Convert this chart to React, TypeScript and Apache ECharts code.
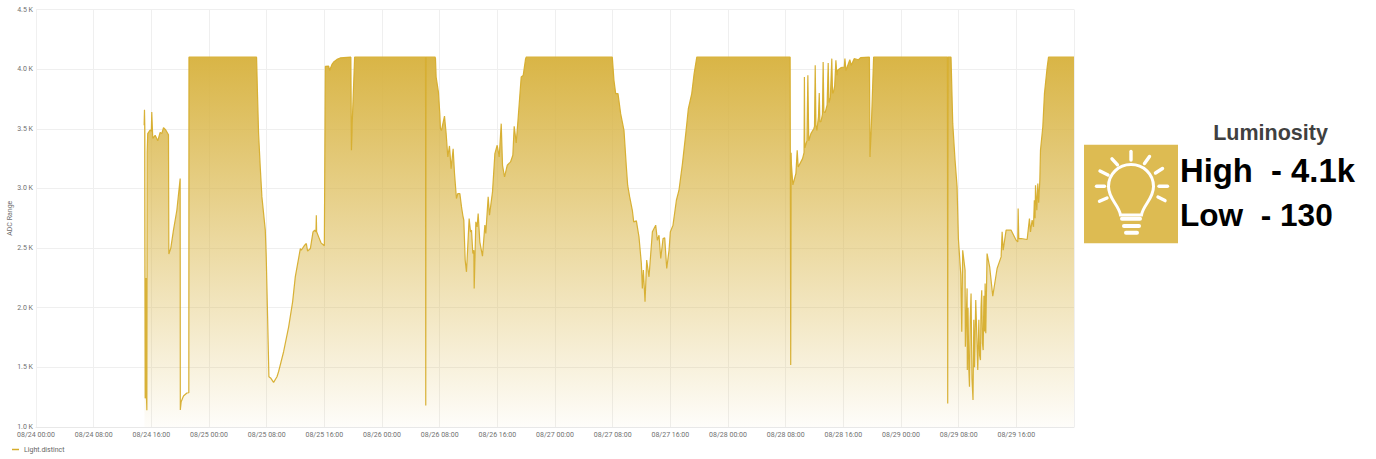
import React, { useEffect, useRef } from "react";
import * as echarts from "echarts";

const tickLabels = [
  "08/24 00:00", "08/24 08:00", "08/24 16:00", "08/25 00:00", "08/25 08:00", "08/25 16:00",
  "08/26 00:00", "08/26 08:00", "08/26 16:00", "08/27 00:00", "08/27 08:00", "08/27 16:00",
  "08/28 00:00", "08/28 08:00", "08/28 16:00", "08/29 00:00", "08/29 08:00", "08/29 16:00",
];

// Hours since 08/24 00:00 and the reading at that hour
const hours = [
  15.0, 15.05, 15.1, 15.15, 15.2, 15.28, 15.3, 15.38, 15.42, 15.5, 15.83, 16.0, 16.06, 16.2, 16.53, 16.9, 17.22, 17.45, 17.69, 18.0, 18.38,
  18.43, 18.7, 19.07, 19.54, 20.0, 20.02, 20.14, 20.46, 20.93, 21.2, 21.22,
  30.6, 30.74, 30.88, 31.11, 31.34, 31.81, 31.94, 32.13, 32.31, 32.59, 32.96, 33.43, 33.65, 34.35, 35.05, 35.6, 35.97, 36.43, 36.67, 36.8,
  37.27, 37.5, 37.68, 38.06, 38.43, 38.66, 38.84, 38.89, 38.93, 39.21, 39.54, 40.0, 40.14, 40.6, 40.74, 41.06, 41.29, 41.76, 42.2, 43.68, 43.76, 43.9, 44.2,
  54.04, 54.07, 54.1, 55.37,
  55.42, 55.51, 55.83, 56.02, 56.11, 56.25, 56.67, 56.9, 57.13, 57.36, 57.59, 57.87, 58.06, 58.33, 58.51, 58.8, 59.03, 59.21, 59.35, 59.54, 59.72,
  60.09, 60.28, 60.42, 60.6, 60.74, 60.79, 61.02, 61.2, 61.34, 61.57, 61.94, 62.27, 62.4, 62.73, 62.91, 63.33, 63.66, 63.98, 64.26, 64.54, 64.72,
  65.0, 65.37, 65.83, 66.15, 66.34, 66.62, 66.9, 67.31, 67.59, 67.92, 68.0,
  79.95, 80.18, 80.42, 80.74, 81.11, 81.57, 81.9, 82.08, 82.36, 82.73, 82.92, 83.29, 83.65, 83.98, 84.12, 84.26, 84.49, 84.72, 85.04, 85.51, 85.97,
  86.2, 86.43, 86.67, 86.99, 87.22, 87.5, 87.82, 88.0, 88.37, 88.84, 89.2, 89.68, 90.14, 90.5, 90.97, 91.3, 91.67,
  104.62, 104.7, 104.76, 104.8, 105.0, 105.42, 105.6, 105.74, 106.34, 106.55, 106.6, 106.66, 106.95, 107.08, 107.2, 107.5, 107.9, 108.0, 108.1, 108.2, 108.33,
  108.55, 108.66, 108.75, 108.9, 109.1, 109.2, 109.3, 109.5, 109.75, 109.9, 110.0, 110.2, 110.4, 110.5, 110.6, 110.8, 110.97, 111.1, 111.2, 111.67,
  112.13, 112.22, 112.36, 112.9, 113.1, 113.5, 114.1, 114.4, 115.62, 115.7, 115.88, 116.2,
  126.44, 126.48, 126.52, 126.94, 127.18, 127.5, 127.78, 127.96, 128.3, 128.43, 128.56, 128.89, 128.93, 129.17, 129.2, 129.3, 129.4, 129.5, 129.6, 129.72,
  129.85, 129.99, 130.1, 130.2, 130.37, 130.5, 130.65, 130.8, 130.9, 131.02, 131.1, 131.2, 131.3, 131.4, 131.5, 131.6, 131.67, 131.76, 131.94, 132.3,
  132.73, 133.33, 133.89, 134.03, 134.17, 134.58, 135.28, 135.97, 136.2, 136.25, 136.34, 136.67, 137.5, 137.82, 137.96, 138.19, 138.38, 138.5, 138.6, 138.66,
  138.84, 138.98, 139.1, 139.26, 139.35, 139.67, 139.9, 140.28, 140.46, 144.0,
];

const values = [
  3530, 3660, 3500, 1240, 1270, 2250, 1300, 1140, 3300, 3460, 3490, 3480, 3640, 3420, 3445, 3400, 3470, 3460, 3510, 3490, 3450,
  2450, 2500, 2650, 2817, 3083, 1142, 1212, 1260, 1285, 1287, 4100,
  4100, 3766, 3460, 3180, 2929, 2650, 2426, 1924, 1421, 1408, 1374, 1421, 1463, 1631, 1840, 2049, 2259, 2413, 2496, 2482,
  2524, 2538, 2474, 2496, 2636, 2650, 2636, 2775, 2636, 2594, 2544, 2519, 4023, 4026, 3990, 4040, 4060, 4082, 4094, 4100, 3320, 3600, 4100,
  4100, 1180, 4100, 4100,
  4088, 3934, 3808, 3627, 3501, 3487, 3607, 3459, 3264, 3356, 3166, 3333, 3125, 2915, 2957, 2957, 2845, 2775, 2734, 2399, 2301,
  2748, 2636, 2650, 2454, 2482, 2162, 2720, 2678, 2789, 2552, 2432, 2692, 2622, 2929, 2775, 2971, 3292, 3362, 3264, 3543, 3194,
  3096, 3194, 3222, 3278, 3521, 3381, 3599, 3934, 3948, 4088, 4100,
  4100, 3906, 3795, 3795, 3627, 3487, 3180, 3027, 2929, 2817, 2720, 2728, 2594, 2371, 2162, 2315, 2050, 2399, 2259, 2636, 2692,
  2566, 2608, 2413, 2580, 2586, 2329, 2482, 2636, 2692, 2901, 2985, 3208, 3459, 3669, 3795, 3962, 4100,
  4100, 1520, 3300, 3200, 3030, 3125, 3320, 3180, 3250, 3300, 3934, 3340, 3400, 3948, 3400, 3459, 3500, 3520, 4032, 3530, 3487,
  3600, 3800, 3560, 3560, 3620, 4060, 3640, 3640, 3700, 4051, 3720, 3760, 4088, 3800, 3800, 3860, 4074, 3950, 3990, 4012,
  4018, 4088, 3990, 4079, 4032, 4088, 4079, 4097, 4100, 3264, 3515, 4100,
  4100, 1198, 4100, 4100, 3543, 3236, 3013, 2580, 2273, 1798, 2482, 2315, 1673, 2162, 1477, 2000, 1500, 1338, 1900, 2119,
  1400, 1226, 1900, 1500, 2064, 1800, 1477, 1900, 1600, 1561, 2000, 2147, 1700, 1645, 2100, 1800, 2203, 1785, 2454, 2343,
  2097, 2329, 2426, 2636, 2482, 2650, 2650, 2566, 2552, 2831, 2580, 2580, 2572, 2748, 2636, 2734, 2678, 2900, 2750, 3027,
  2817, 3041, 2880, 3069, 3320, 3515, 3795, 4018, 4100, 4100,
];

const seriesName = "Light.distinct";
const gold = "#d6ad2c";
const panelGold = "#ddbb52";

const bulbPath =
  "M 1120.5 215 C 1119 205 1108.5 199 1108.5 186.5 C 1108.5 174 1118.5 164.5 1131 164.5 C 1143.5 164.5 1153.5 174 1153.5 186.5 C 1153.5 199 1143 205 1141.5 215 Z";

const rays = [
  [1131, 151.5, 1131, 160],
  [1112, 158.8, 1117.5, 164.8],
  [1100, 171, 1108, 175],
  [1096.5, 186.3, 1104.5, 186.3],
  [1099.5, 201.3, 1107, 198],
  [1149.5, 156.5, 1144.5, 163.5],
  [1162.5, 168.5, 1155.5, 173],
  [1167.5, 186.3, 1159, 186.3],
  [1165, 200.6, 1158, 197],
];

const bases = [
  [1122, 218.8, 1140, 218.8],
  [1124, 226, 1139, 226],
  [1126, 232.8, 1137, 232.8],
];

export default function App() {
  const ref = useRef<HTMLDivElement>(null);

  useEffect(() => {
    if (!ref.current) return;
    echarts.graphic.registerShape("bulb", echarts.graphic.extendPath(bulbPath, {}));
    const chart = echarts.init(ref.current, undefined, { renderer: "svg" });

    const rayEls = rays.map(([x1, y1, x2, y2]) => ({
      type: "line",
      shape: { x1, y1, x2, y2 },
      style: { stroke: "#fff", lineWidth: 3.4, lineCap: "round" },
    }));
    const baseEls = bases.map(([x1, y1, x2, y2]) => ({
      type: "line",
      shape: { x1, y1, x2, y2 },
      style: { stroke: "#fff", lineWidth: 4, lineCap: "round" },
    }));

    chart.setOption({
      animation: false,
      backgroundColor: "#fff",
      textStyle: { fontFamily: "Roboto" },
      grid: { left: 36, right: 302, top: 9.5, bottom: 32, outerBoundsMode: "none", containLabel: false },
      legend: {
        left: 12,
        top: 446,
        padding: 0,
        itemWidth: 7,
        itemHeight: 1.5,
        icon: "rect",
        data: [seriesName],
        textStyle: { fontSize: 7, color: "#666", fontFamily: "Roboto" },
        itemStyle: { color: gold },
      },
      xAxis: {
        type: "value",
        min: 0,
        max: 144,
        interval: 8,
        axisLine: { show: true, lineStyle: { color: "#e8e8e8" } },
        axisTick: { show: false },
        axisLabel: {
          fontSize: 7,
          color: "#707070",
          margin: 4,
          formatter: (v: number) => tickLabels[v / 8] ?? "",
        },
        splitLine: { show: true, lineStyle: { color: "#efefef", width: 1 } },
      },
      yAxis: {
        type: "value",
        min: 1000,
        max: 4500,
        interval: 500,
        name: "ADC Range",
        nameLocation: "middle",
        nameGap: 23,
        nameMoveOverlap: false,
        nameTextStyle: { fontSize: 7, color: "#707070" },
        axisLine: { show: true, lineStyle: { color: "#f0f0f0" } },
        axisTick: { show: false },
        axisLabel: {
          fontSize: 7,
          color: "#707070",
          margin: 3,
          formatter: (v: number) => (v / 1000).toFixed(1) + " K",
        },
        splitLine: { show: true, lineStyle: { color: "#efefef", width: 1 } },
      },
      series: [
        {
          name: seriesName,
          type: "line",
          data: hours.map((h, i) => [h, values[i]]),
          showSymbol: false,
          smooth: false,
          lineStyle: { color: gold, width: 1.2, opacity: 0.95 },
          itemStyle: { color: gold },
          areaStyle: {
            origin: "start",
            opacity: 1,
            color: new echarts.graphic.LinearGradient(0, 0, 0, 1, [
              { offset: 0, color: "rgba(217,181,70,1)" },
              { offset: 1, color: "rgba(217,181,70,0.03)" },
            ]),
          },
        },
      ],
      graphic: [
        {
          type: "rect",
          shape: { x: 1084, y: 144.7, width: 94, height: 98.6 },
          style: { fill: panelGold },
        },
        {
          type: "bulb",
          style: { fill: "none", stroke: "#fff", lineWidth: 3 },
        },
        ...rayEls,
        ...baseEls,
        {
          type: "text",
          x: 1270.5,
          y: 132.5,
          style: {
            text: "Luminosity",
            font: 'bold 21.5px "Liberation Sans"',
            fill: "#404040",
            align: "center",
            verticalAlign: "middle",
          },
        },
        {
          type: "text",
          x: 1180,
          y: 170.5,
          style: {
            text: "High  - 4.1k",
            font: 'bold 32.8px "Liberation Sans"',
            fill: "#000",
            align: "left",
            verticalAlign: "middle",
          },
        },
        {
          type: "text",
          x: 1180,
          y: 214.5,
          style: {
            text: "Low  - 130",
            font: 'bold 31.6px "Liberation Sans"',
            fill: "#000",
            align: "left",
            verticalAlign: "middle",
          },
        },
      ],
    });

    return () => chart.dispose();
  }, []);

  return (
    <div style={{ position: "absolute", left: 0, top: 0, width: 1376, height: 459, overflow: "hidden" }}>
      <div ref={ref} style={{ width: 1376, height: 459 }} />
    </div>
  );
}
